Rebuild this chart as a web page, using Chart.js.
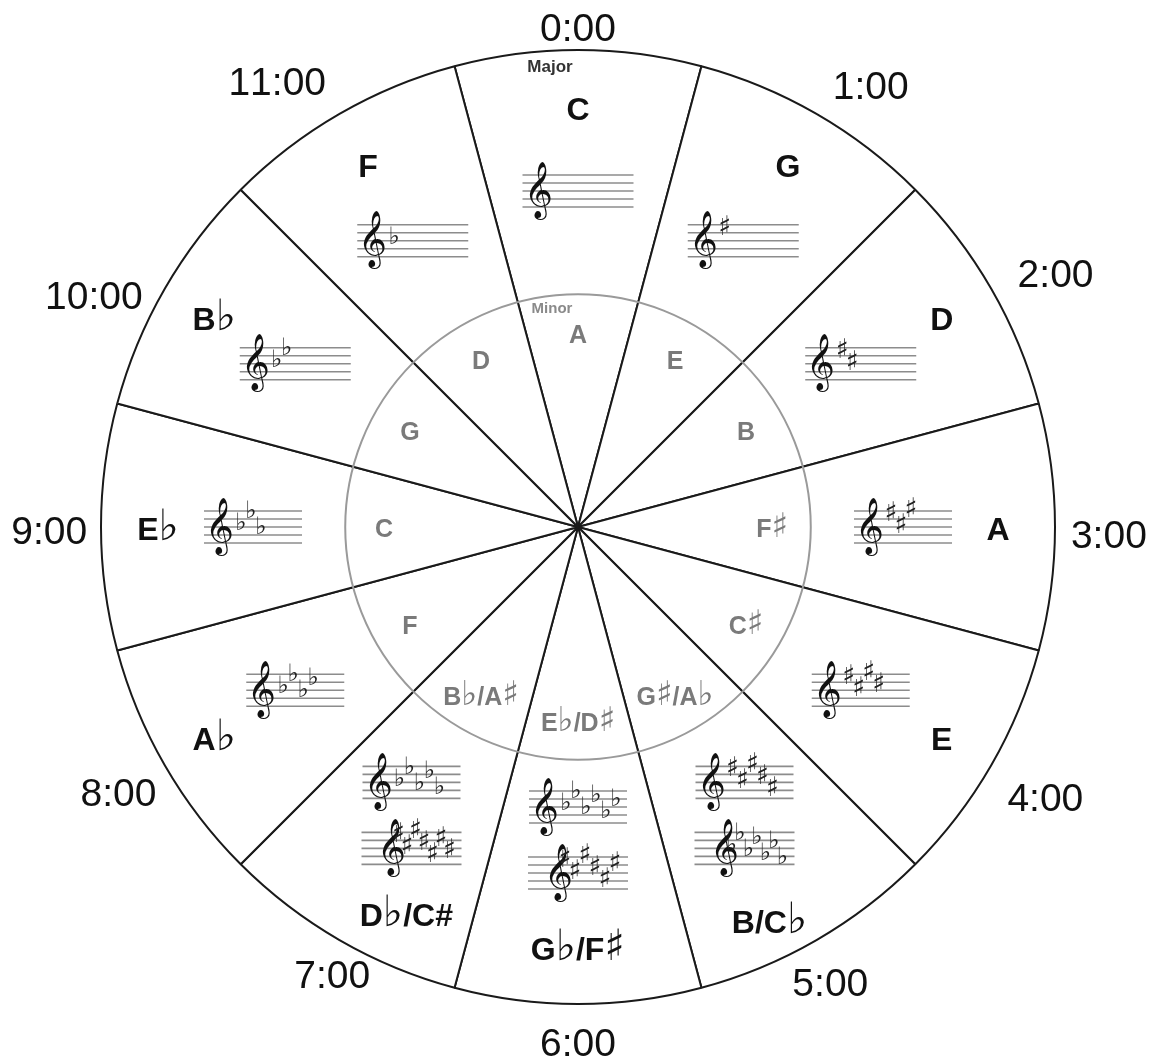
<!DOCTYPE html>
<html>
<head>
<meta charset="utf-8">
<script src="https://cdn.jsdelivr.net/npm/chart.js@4.4.1/dist/chart.umd.min.js"></script>
<style>
  html, body { margin: 0; padding: 0; background: #fff; }
  canvas { display: block; }
</style>
</head>
<body>
<canvas id="wheel" width="1151" height="1059"></canvas>
<script>
// circle of fifths, clockwise from the top
const majorKeys = ['C', 'G', 'D', 'A', 'E', 'B/C♭', 'G♭/F♯', 'D♭/C#', 'A♭', 'E♭', 'B♭', 'F'];
const minorKeys = ['A', 'E', 'B', 'F♯', 'C♯', 'G♯/A♭', 'E♭/D♯', 'B♭/A♯', 'F', 'C', 'G', 'D'];
const clockLabels = ['0:00', '1:00', '2:00', '3:00', '4:00', '5:00', '6:00', '7:00', '8:00', '9:00', '10:00', '11:00'];
// key signature: >0 sharps, <0 flats. second staff for the enharmonic keys
const keySig = [0, 1, 2, 3, 4, 5, -6, -5, -4, -3, -2, -1];
const altSig = [null, null, null, null, null, -7, 6, 7, null, null, null, null];
const sliceValues = [1, 1, 1, 1, 1, 1, 1, 1, 1, 1, 1, 1];

// staff positions in half-spaces below the top line (F5)
const sharpSteps = [0, 3, -1, 2, 5, 1, 4];
const flatSteps = [4, 1, 5, 2, 6, 3, 7];

// small hand placement fixes for the hour labels: [degrees, px]
const clockNudge = [[0, -6], [3.5, 6], [2, 9], [0.8, 1], [0, 8], [1, -2], [0, 9], [-1.2, -12], [0, -1], [-0.3, -1], [-4.4, -5], [-4, 8]];

const GAP = 8;
const SANS = '"Liberation Sans", Arial, sans-serif';

// text with ♭ / ♯ set in a thinner, taller font, centred on (x, y) by cap height
function keyText(ctx, str, x, y, size, weight, color) {
  const parts = [...str].map(ch => ({
    ch,
    font: (ch === '♭' || ch === '♯') ? `${Math.round(size * 1.35)}px "DejaVu Sans"` : `${weight} ${size}px ${SANS}`
  }));
  let total = 0;
  parts.forEach(p => { ctx.font = p.font; p.w = ctx.measureText(p.ch).width; total += p.w; });
  let px = x - total / 2;
  ctx.fillStyle = color;
  ctx.textAlign = 'left';
  ctx.textBaseline = 'alphabetic';
  parts.forEach(p => {
    ctx.font = p.font;
    ctx.fillText(p.ch, px, y + size * 0.358);
    px += p.w;
  });
}

// scale a glyph so that its ink is `h` px tall
function glyphFont(ctx, ch, h, family) {
  ctx.font = '100px ' + family;
  const m = ctx.measureText(ch);
  const size = 100 * h / (m.actualBoundingBoxAscent + m.actualBoundingBoxDescent);
  ctx.font = size + 'px ' + family;
  return ctx.measureText(ch);
}

function drawClef(ctx, left, top) {
  const m = glyphFont(ctx, '𝄞', 58, '"DejaVu Sans", "Noto Sans", sans-serif');
  ctx.textAlign = 'left';
  ctx.textBaseline = 'alphabetic';
  ctx.fillStyle = '#111';
  ctx.fillText('𝄞', left + m.actualBoundingBoxLeft, top - 13.5 + m.actualBoundingBoxAscent);
}

function drawStaff(ctx, cx, cy, w, sig) {
  const top = cy - 2 * GAP, left = cx - w / 2;
  ctx.strokeStyle = '#8c8c8c';
  ctx.lineWidth = 1.6;
  for (let k = 0; k < 5; k++) {
    const y = top + k * GAP;
    ctx.beginPath();
    ctx.moveTo(left, y);
    ctx.lineTo(left + w, y);
    ctx.stroke();
  }
  drawClef(ctx, left + 6, top);
  const n = Math.abs(sig);
  if (!n) return;
  const sharp = sig > 0;
  const ch = sharp ? '♯' : '♭';
  const m = glyphFont(ctx, ch, sharp ? 20 : 18, '"DejaVu Sans", sans-serif');
  const a = m.actualBoundingBoxAscent, d = m.actualBoundingBoxDescent;
  const steps = sharp ? sharpSteps : flatSteps;
  const dx = n >= 7 ? 8.5 : 10;
  ctx.textAlign = 'center';
  ctx.textBaseline = 'alphabetic';
  ctx.fillStyle = '#222';
  for (let k = 0; k < n; k++) {
    const y = top + steps[k] * GAP / 2;
    const x = left + 37 + k * dx;
    const base = sharp ? y + (a - d) / 2 : y - d + 0.22 * (a + d);
    ctx.fillText(ch, x, base);
  }
}

const wheelDecor = {
  id: 'wheelDecor',
  afterDatasetsDraw(chart) {
    const arcs = chart.getDatasetMeta(0).data;
    const cx = arcs[0].x, cy = arcs[0].y, R = arcs[0].outerRadius;
    const ctx = chart.ctx;
    ctx.save();

    // minor ring
    ctx.beginPath();
    ctx.arc(cx, cy, R * 0.488, 0, Math.PI * 2);
    ctx.strokeStyle = '#9a9a9a';
    ctx.lineWidth = 2;
    ctx.stroke();

    keyText(ctx, 'Major', cx - 28, cy - R + 16, 17, 'bold', '#333');
    keyText(ctx, 'Minor', cx - 26, cy - R * 0.488 + 13, 15, 'bold', '#8a8a8a');

    arcs.forEach((arc, i) => {
      const mid = (arc.startAngle + arc.endAngle) / 2;
      const at = (r, deg) => {
        const ang = mid + (deg || 0) * Math.PI / 180;
        return [cx + r * Math.cos(ang), cy + r * Math.sin(ang)];
      };
      const c = Math.cos(mid), s = Math.sin(mid);

      // minor key
      const [mx, my] = at(194);
      keyText(ctx, minorKeys[i], mx, my + 1, 25, 'bold', '#7a7a7a');

      // major key
      let lr = 420, ld = 0;
      if (i === 5) { lr = 437; ld = 4; }
      if (i === 7) { lr = 422; ld = -6; }
      const [kx, ky] = at(lr, ld);
      keyText(ctx, majorKeys[i], kx, ky + 2, 32, 'bold', '#111');

      // staves
      if (altSig[i] === null) {
        const sw = (-s) > 0.3 ? 111 : 98;
        const [sx, sy] = at(336 - 11 * Math.abs(c));
        drawStaff(ctx, sx, sy, sw, keySig[i]);
      } else {
        const [sx, sy] = at(i === 6 ? 313 : 333);
        drawStaff(ctx, sx, sy - 33, 98, keySig[i]);
        drawStaff(ctx, sx, sy + 33, 100, altSig[i]);
      }

      // hour labels outside the wheel
      const [nd, nr] = clockNudge[i];
      const ang = mid + nd * Math.PI / 180;
      const hc = Math.cos(ang), hs = Math.sin(ang);
      ctx.font = `39px ${SANS}`;
      const tw = ctx.measureText(clockLabels[i]).width;
      const cr = R * 1.031 + Math.abs(hc) * tw / 2 + Math.abs(hs) * 14 + nr;
      keyText(ctx, clockLabels[i], cx + cr * hc, cy + cr * hs, 39, 'normal', '#111');
    });
    ctx.restore();
  }
};

new Chart(document.getElementById('wheel'), {
  type: 'pie',
  data: {
    labels: majorKeys,
    datasets: [{
      data: sliceValues,
      backgroundColor: '#ffffff',
      borderColor: '#1a1a1a',
      borderWidth: 2,
      hoverOffset: 0,
      offset: 0
    }]
  },
  options: {
    responsive: false,
    animation: false,
    events: [],
    rotation: -15,
    layout: { padding: { left: 50, right: 45, top: 49, bottom: 54 } },
    plugins: { legend: { display: false }, tooltip: { enabled: false } }
  },
  plugins: [wheelDecor]
});
</script>
</body>
</html>
